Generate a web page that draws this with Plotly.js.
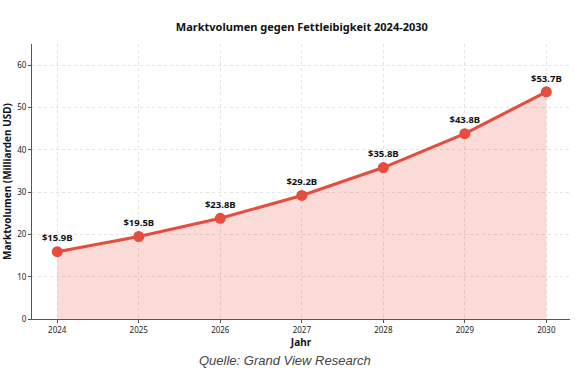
<!DOCTYPE html>
<html><head><meta charset="utf-8">
<script src="https://cdn.plot.ly/plotly-3.0.1.min.js"></script>
<style>html,body{margin:0;padding:0;background:#fff}#c{width:575px;height:381px}</style>
</head><body><div id="c"></div>
<script>
const years = [2024, 2025, 2026, 2027, 2028, 2029, 2030];
const values = [15.9, 19.5, 23.8, 29.2, 35.8, 43.8, 53.7];
const labels = ["$15.9B", "$19.5B", "$23.8B", "$29.2B", "$35.8B", "$43.8B", "$53.7B"];
const yTicks = [0, 10, 20, 30, 40, 50, 60];

const font = "Noto Sans, Open Sans, DejaVu Sans, sans-serif";
const trace = {
  x: years, y: values, type: 'scatter', mode: 'lines+markers+text',
  text: labels, textposition: 'top center',
  textfont: {family: font, size: 9.5, color: '#111', weight: 'bold'},
  line: {color: '#e74c3c', width: 3},
  marker: {color: '#e74c3c', size: 11},
  fill: 'tozeroy', fillcolor: 'rgba(231,76,60,0.2)',
  cliponaxis: false, hoverinfo: 'skip'
};
const layout = {
  width: 575, height: 381,
  margin: {l: 32, r: 5, t: 44, b: 62},
  paper_bgcolor: '#fff', plot_bgcolor: '#fff',
  showlegend: false,
  title: {text: '<b>Marktvolumen gegen Fettleibigkeit 2024-2030</b>', x: 0.525, xanchor: 'center', y: 0.928, yanchor: 'middle', font: {family: font, size: 11, color: '#111'}},
  xaxis: {
    range: [2023.69, 2030.29], tickvals: years, ticktext: years.map(String),
    showgrid: true, gridcolor: '#e3e3e3', griddash: 'dot', gridwidth: 1,
    showline: true, linecolor: '#555', linewidth: 1,
    ticks: 'outside', ticklen: 3, tickcolor: '#555',
    tickfont: {family: font, size: 8, color: '#222'},
    zeroline: false,
    title: {text: '<b>Jahr</b>', font: {family: font, size: 10, color: '#111'}, standoff: 4}
  },
  yaxis: {
    range: [0, 65], tickvals: yTicks,
    showgrid: true, gridcolor: '#e3e3e3', griddash: 'dot', gridwidth: 1,
    showline: true, linecolor: '#555', linewidth: 1,
    ticks: 'outside', ticklen: 3, tickcolor: '#555',
    tickfont: {family: font, size: 8, color: '#222'},
    zeroline: false,
    title: {text: '<b>Marktvolumen (Milliarden USD)</b>', font: {family: font, size: 10, color: '#111'}, standoff: 6}
  },
  annotations: [{
    text: '<i>Quelle: Grand View Research</i>', xref: 'paper', yref: 'paper',
    x: 0.47, y: -0.115, xanchor: 'center', yanchor: 'top', showarrow: false,
    font: {family: 'Liberation Sans, Arial, sans-serif', size: 13, color: '#444'}
  }]
};
Plotly.newPlot('c', [trace], layout, {displayModeBar: false, staticPlot: true});
</script></body></html>
